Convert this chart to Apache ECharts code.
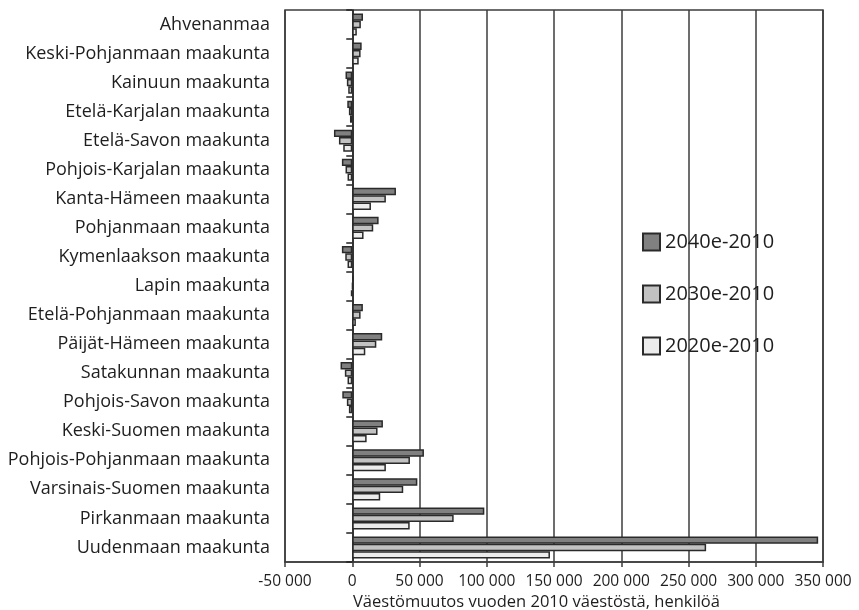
<!DOCTYPE html>
<html>
<head>
<meta charset="utf-8">
<script src="https://cdn.jsdelivr.net/npm/echarts@6/dist/echarts.min.js"></script>
<style>
  html, body { margin: 0; padding: 0; background: #fff; }
  #chart { width: 859px; height: 610px; }
</style>
</head>
<body>
<div id="chart"></div>
<script>
// Regions, listed from top to bottom
const regions = [
  'Ahvenanmaa',
  'Keski-Pohjanmaan maakunta',
  'Kainuun maakunta',
  'Etelä-Karjalan maakunta',
  'Etelä-Savon maakunta',
  'Pohjois-Karjalan maakunta',
  'Kanta-Hämeen maakunta',
  'Pohjanmaan maakunta',
  'Kymenlaakson maakunta',
  'Lapin maakunta',
  'Etelä-Pohjanmaan maakunta',
  'Päijät-Hämeen maakunta',
  'Satakunnan maakunta',
  'Pohjois-Savon maakunta',
  'Keski-Suomen maakunta',
  'Pohjois-Pohjanmaan maakunta',
  'Varsinais-Suomen maakunta',
  'Pirkanmaan maakunta',
  'Uudenmaan maakunta'
];

// Population change relative to 2010 (persons)
const change2040 = [8000, 7000, -5000, -3700, -13600, -7700, 32500, 19600, -7700, 1000,
  7900, 22300, -8700, -7400, 22800, 53300, 48400, 98200, 346400];
const change2030 = [6400, 6200, -4000, -2500, -9900, -5000, 25000, 15600, -5200, 300,
  6200, 17900, -5500, -4000, 18800, 42900, 37900, 75400, 263100];
const change2020 = [3400, 4800, -3000, -1700, -6700, -3500, 13900, 8400, -3500, -1000,
  2700, 9700, -3500, -2500, 10700, 25000, 20800, 42700, 147000];

const seriesNames = ['2040e-2010', '2030e-2010', '2020e-2010'];
const xMin = -50000, xMax = 350000, xStep = 50000;
const axisTitle = 'Väestömuutos vuoden 2010 väestöstä, henkilöä';

const FONT = '"Open Sans", sans-serif';
const TEXT = '#1e1e1e';
const LINE = '#3c3c3c';

function fmtThousands(v) {
  const s = String(Math.abs(v)).replace(/\B(?=(\d{3})+(?!\d))/g, ' ');
  return (v < 0 ? '-' : '') + s;
}

const fills = ['#808080', '#c2c2c2', '#ececec'];
const values = [change2040, change2030, change2020];

const chart = echarts.init(document.getElementById('chart'), null, { renderer: 'canvas' });

chart.setOption({
  animation: false,
  backgroundColor: '#fff',
  textStyle: { fontFamily: FONT },
  grid: {
    left: 285, right: 36, top: 10, bottom: 48,
    show: true, borderColor: LINE, borderWidth: 1.5, backgroundColor: 'transparent'
  },
  legend: {
    orient: 'vertical',
    left: 637,
    top: 227,
    itemWidth: 17,
    itemHeight: 17,
    itemGap: 32,
    icon: 'rect',
    textStyle: { fontFamily: FONT, fontSize: 20, color: TEXT },
    data: seriesNames
  },
  xAxis: {
    type: 'value',
    min: xMin, max: xMax, interval: xStep,
    axisLine: { show: true, onZero: false, lineStyle: { color: LINE, width: 1.5 } },
    axisTick: { show: true, length: 5, lineStyle: { color: LINE, width: 1.5 } },
    axisLabel: { fontFamily: FONT, fontSize: 15.5, color: TEXT, margin: 12, formatter: fmtThousands },
    splitLine: { show: true, lineStyle: { color: LINE, width: 1.5 } }
  },
  yAxis: [
    {
      type: 'category',
      data: regions,
      inverse: true,
      position: 'left',
      axisLine: { show: false, onZero: false },
      axisTick: { show: false },
      axisLabel: { fontFamily: FONT, fontSize: 18, color: TEXT, margin: 15 },
      splitLine: { show: false }
    },
    {
      // zero line with category ticks
      type: 'category',
      data: regions,
      inverse: true,
      position: 'left',
      axisLine: { show: true, onZero: true, lineStyle: { color: '#222', width: 1.5 } },
      axisTick: { show: true, length: 6, lineStyle: { color: '#222', width: 1.5 } },
      axisLabel: { show: false },
      splitLine: { show: false }
    }
  ],
  series: seriesNames.map((name, i) => ({
    name: name,
    type: 'bar',
    yAxisIndex: 0,
    data: values[i],
    barGap: '0%',
    barCategoryGap: '24%',
    itemStyle: { color: fills[i], borderColor: '#2a2a2a', borderWidth: 1.5 },
    z: 3
  })),
  graphic: [
    {
      type: 'text',
      left: 538 - 185,
      top: 594,
      style: { text: axisTitle, fontFamily: FONT, fontSize: 16.5, fill: TEXT }
    }
  ]
});
</script>
</body>
</html>
